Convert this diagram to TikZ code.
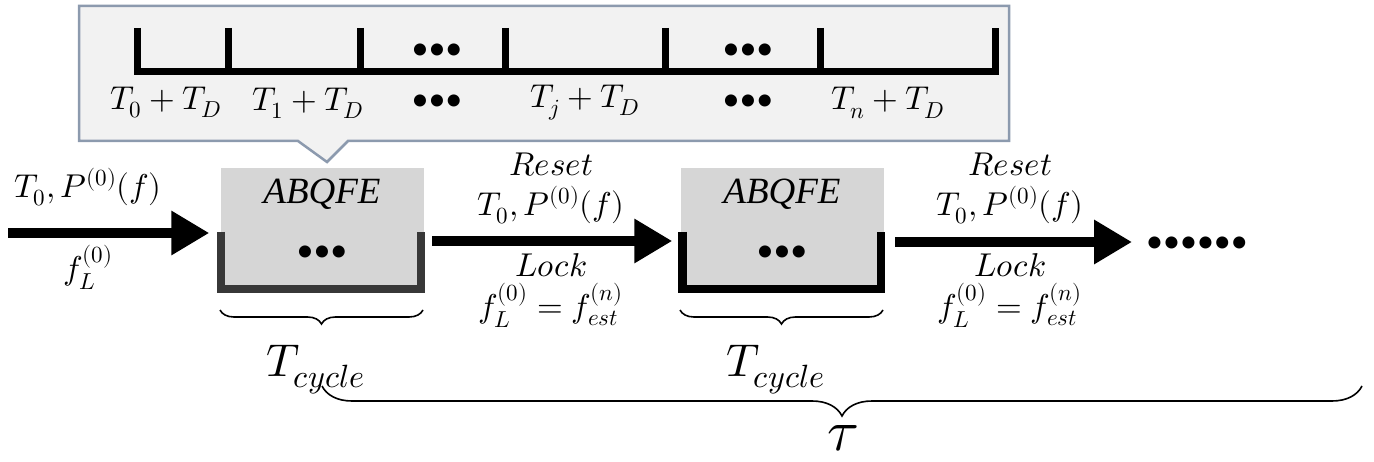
\documentclass[tikz,border=0pt]{standalone}
\usepackage{fontspec}
\usepackage{unicode-math}
\setmathfont{Latin Modern Math}
\newfontfamily\tmsfont{Liberation Serif}
\newfontfamily\blfont{Carlito}
\usetikzlibrary{arrows.meta,decorations.pathreplacing}
\definecolor{callfill}{HTML}{F2F2F2}
\definecolor{callline}{HTML}{8C9AAE}
\definecolor{boxfill}{HTML}{D6D6D6}
\definecolor{darkbr}{HTML}{383838}
\tikzset{
  lbl/.style={inner sep=0pt, font=\fontsize{33}{38}\selectfont},
  biglbl/.style={inner sep=0pt, font=\fontsize{46}{52}\selectfont},
  dotsl/.style={inner sep=0pt, font=\blfont\fontsize{34}{40}\selectfont},
  boxnode/.style={fill=boxfill, minimum width=203pt, minimum height=121pt, inner sep=0pt},
  abq/.style={inner sep=0pt, font=\tmsfont\itshape\fontsize{37}{42}\selectfont},
  tickline/.style={line width=7pt, line cap=butt},
  bigarrow/.style={line width=10pt, -{Triangle[length=38pt,width=42pt]}},
  bracebar/.style={line width=8.5pt, line join=miter},
  bracesmall/.style={line width=1.6pt, decorate, decoration={brace, mirror, amplitude=14pt}},
  bracebig/.style={line width=1.6pt, decorate, decoration={brace, mirror, amplitude=30pt}},
}
\begin{document}
\begin{tikzpicture}[x=1pt,y=-1pt]
\useasboundingbox (0,0) rectangle (1374,462);

% callout
\draw[fill=callfill, draw=callline, line width=2.5pt, line join=miter]
  (79,6) -- (1009,6) -- (1009,141) -- (348,141) -- (327,162) -- (298,141) -- (79,141) -- cycle;

% timeline
\coordinate (t0) at (137,28);
\coordinate (t1) at (228,28);
\coordinate (t2) at (360,28);
\coordinate (t3) at (505,28);
\coordinate (t4) at (665,28);
\coordinate (t5) at (820,28);
\coordinate (t6) at (995,28);
\draw[tickline, line join=miter] (t0) -- (137,72) -- (995,72) -- (t6);
\foreach \t in {t1,t2,t3,t4,t5} \draw[tickline] (\t) -- ++(0,44);
\node[dotsl] (ud1) at (437,52) {•••};
\node[dotsl] (ud2) at (748,52) {•••};
\node[lbl] (l0) at (166,103) {$T_0+T_D$};
\node[lbl] (l1) at (308,103) {$T_1+T_D$};
\node[dotsl] (ld1) at (437,103) {•••};
\node[lbl] (lj) at (585,103) {$T_j+T_D$};
\node[dotsl] (ld2) at (748,103) {•••};
\node[lbl] (ln) at (888,103) {$T_n+T_D$};

% boxes
\node[boxnode] (b1) at (322,229) {};
\node[abq] (a1) at (322,194) {ABQFE};
\node[dotsl] (d1) at (322,254) {•••};
\draw[bracebar, darkbr] (221,232) -- (221,289) -- (421,289) -- (421,232);

\node[boxnode] (b2) at (782,229) {};
\node[abq] (a2) at (782,194) {ABQFE};
\node[dotsl] (d2) at (782,254) {•••};
\draw[bracebar, black] (682.5,232) -- (682.5,289) -- (881,289) -- (881,232);

% arrows
\coordinate (start) at (8,233);
\draw[bigarrow, shorten >=11pt] (start) -- (start -| b1.west);
\node[lbl] (in1) at (88,187) {$T_0,P^{(0)}(f)$};
\node[lbl] (in2) at (88,267) {$f_L^{(0)}$};

\coordinate (a2s) at (432,241);
\draw[bigarrow, shorten >=8pt] (a2s) -- (a2s -| b2.west);
\node[lbl] (r1) at (551,165) {$Reset$};
\node[lbl] (p1) at (551,205) {$T_0,P^{(0)}(f)$};
\node[lbl] (k1) at (551,265) {$Lock$};
\node[lbl] (e1) at (551,305) {$f_L^{(0)}=f_{est}^{(n)}$};

\node[dotsl] (more) at (1197,245) {••••••};
\coordinate (a3s) at (895,242);
\draw[bigarrow, shorten >=14pt] (a3s) -- (a3s -| more.west);
\node[lbl] (r2) at (1010,165) {$Reset$};
\node[lbl] (p2) at (1010,205) {$T_0,P^{(0)}(f)$};
\node[lbl] (k2) at (1010,265) {$Lock$};
\node[lbl] (e2) at (1010,305) {$f_L^{(0)}=f_{est}^{(n)}$};

% braces
\draw[bracesmall] (220,310) -- (423,310);
\draw[bracesmall] (680,310) -- (883,310);
\node[biglbl] (c1) at (316,370) {$T_{cycle}$};
\node[biglbl] (c2) at (776,370) {$T_{cycle}$};
\draw[bracebig] (322,386) -- (1362,386);
\node[inner sep=0pt, font=\fontsize{58}{62}\selectfont] (tau) at (843,438) {$\tau$};
\end{tikzpicture}
\end{document}
